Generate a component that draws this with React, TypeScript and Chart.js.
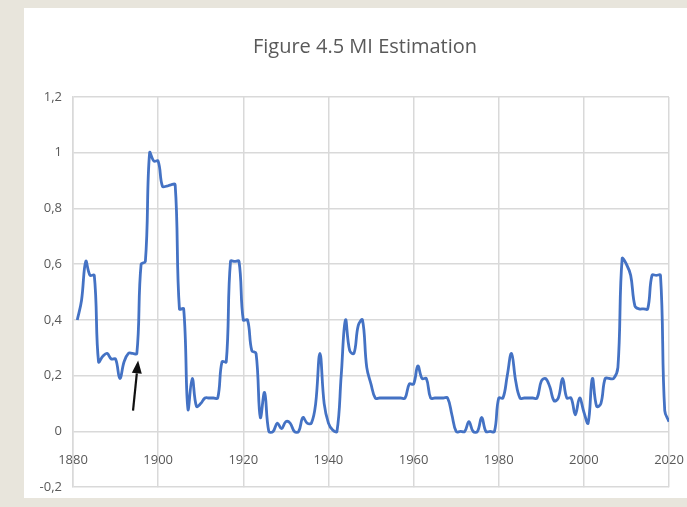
import React, { useEffect, useRef } from "react";
import { Chart, registerables } from "chart.js";

Chart.register(...registerables);

const TITLE = "Figure 4.5 MI Estimation";

const years = [
  1881, 1882, 1883, 1884, 1885, 1886, 1887, 1888, 1889, 1890,
  1891, 1892, 1893, 1894, 1895, 1896, 1897, 1898, 1899, 1900,
  1901, 1902, 1903, 1904, 1905, 1906, 1907, 1908, 1909, 1910,
  1911, 1912, 1913, 1914, 1915, 1916, 1917, 1918, 1919, 1920,
  1921, 1922, 1923, 1924, 1925, 1926, 1927, 1928, 1929, 1930,
  1931, 1932, 1933, 1934, 1935, 1936, 1937, 1938, 1939, 1940,
  1941, 1942, 1943, 1944, 1945, 1946, 1947, 1948, 1949, 1950,
  1951, 1952, 1953, 1954, 1955, 1956, 1957, 1958, 1959, 1960,
  1961, 1962, 1963, 1964, 1965, 1966, 1967, 1968, 1969, 1970,
  1971, 1972, 1973, 1974, 1975, 1976, 1977, 1978, 1979, 1980,
  1981, 1982, 1983, 1984, 1985, 1986, 1987, 1988, 1989, 1990,
  1991, 1992, 1993, 1994, 1995, 1996, 1997, 1998, 1999, 2000,
  2001, 2002, 2003, 2004, 2005, 2006, 2007, 2008, 2009, 2010,
  2011, 2012, 2013, 2014, 2015, 2016, 2017, 2018, 2019, 2020,
];

const miValues = [
  0.40, 0.47, 0.61, 0.56, 0.56, 0.25, 0.27, 0.28, 0.26, 0.26,
  0.19, 0.25, 0.28, 0.28, 0.28, 0.60, 0.61, 1.00, 0.97, 0.97,
  0.88, 0.88, 0.885, 0.885, 0.44, 0.44, 0.08, 0.19, 0.09, 0.10,
  0.12, 0.12, 0.12, 0.12, 0.25, 0.25, 0.61, 0.61, 0.61, 0.40,
  0.40, 0.29, 0.28, 0.05, 0.14, 0.00, 0.00, 0.03, 0.01, 0.035,
  0.03, 0.00, 0.00, 0.05, 0.03, 0.03, 0.10, 0.28, 0.10, 0.03,
  0.005, 0.00, 0.20, 0.40, 0.29, 0.28, 0.38, 0.40, 0.23, 0.17,
  0.12, 0.12, 0.12, 0.12, 0.12, 0.12, 0.12, 0.12, 0.17, 0.17,
  0.235, 0.19, 0.19, 0.12, 0.12, 0.12, 0.12, 0.12, 0.06, 0.00,
  0.00, 0.00, 0.035, 0.00, 0.00, 0.05, 0.00, 0.00, 0.00, 0.12,
  0.12, 0.20, 0.28, 0.18, 0.12, 0.12, 0.12, 0.12, 0.12, 0.18,
  0.19, 0.16, 0.11, 0.12, 0.19, 0.12, 0.12, 0.06, 0.12, 0.07,
  0.03, 0.19, 0.09, 0.10, 0.19, 0.19, 0.19, 0.23, 0.62, 0.60,
  0.56, 0.45, 0.44, 0.44, 0.44, 0.56, 0.56, 0.56, 0.075, 0.035,
];

const xTickYears = [1880, 1900, 1920, 1940, 1960, 1980, 2000, 2020];
const yTickValues = [-0.2, 0, 0.2, 0.4, 0.6, 0.8, 1, 1.2];

// arrow annotation in data coordinates: tail -> tip
const arrowTail = { x: 1894.1, y: 0.075 };
const arrowTip = { x: 1895.3, y: 0.255 };

const arrowPlugin = {
  id: "arrowAnnot",
  afterDatasetsDraw(chart: any) {
    const { ctx, scales } = chart;
    const x1 = scales.x.getPixelForValue(arrowTail.x);
    const y1 = scales.y.getPixelForValue(arrowTail.y);
    const x2 = scales.x.getPixelForValue(arrowTip.x);
    const y2 = scales.y.getPixelForValue(arrowTip.y);
    const ang = Math.atan2(y2 - y1, x2 - x1);
    const headLen = 13;
    const headW = 5;
    ctx.save();
    ctx.strokeStyle = "#111";
    ctx.fillStyle = "#111";
    ctx.lineWidth = 2.2;
    const bx = x2 - headLen * Math.cos(ang);
    const by = y2 - headLen * Math.sin(ang);
    ctx.beginPath();
    ctx.moveTo(x1, y1);
    ctx.lineTo(bx, by);
    ctx.stroke();
    ctx.beginPath();
    ctx.moveTo(x2, y2);
    ctx.lineTo(bx + headW * Math.sin(ang), by - headW * Math.cos(ang));
    ctx.lineTo(bx - headW * Math.sin(ang), by + headW * Math.cos(ang));
    ctx.closePath();
    ctx.fill();
    ctx.restore();
  },
};

export default function App() {
  const canvasRef = useRef<HTMLCanvasElement | null>(null);

  useEffect(() => {
    document.body.style.margin = "0";
    const canvas = canvasRef.current;
    if (!canvas) return;
    const chart = new Chart(canvas, {
      type: "line",
      data: {
        datasets: [
          {
            label: "MI",
            data: years.map((yr, i) => ({ x: yr, y: miValues[i] })),
            borderColor: "#4472C4",
            borderWidth: 2.8,
            pointRadius: 0,
            tension: 0.4,
            fill: false,
            yAxisID: "y",
          },
        ],
      },
      options: {
        animation: false,
        responsive: false,
        maintainAspectRatio: false,
        layout: { padding: { left: 0, right: 0, top: 0, bottom: 0 } },
        plugins: {
          legend: { display: false },
          tooltip: { enabled: false },
          title: {
            display: true,
            text: TITLE,
            color: "#595959",
            font: { family: "'Open Sans', sans-serif", size: 20, weight: "normal", lineHeight: 1.2 },
            padding: { top: 27, bottom: 38 },
          },
        },
        scales: {
          x: {
            type: "linear",
            min: 1880,
            max: 2020,
            position: { y: 0 } as any,
            afterFit: (s: any) => {
              s.height = 0;
            },
            afterBuildTicks: (s: any) => {
              s.ticks = xTickYears.map((v) => ({ value: v }));
            },
            grid: { color: "#d9d9d9", lineWidth: 1.5, drawTicks: false },
            border: { display: false },
            ticks: {
              padding: 21,
              color: "#595959",
              font: { family: "'Open Sans', sans-serif", size: 13 },
              callback: (v: any) => String(v),
              maxRotation: 0,
            },
          },
          y: {
            type: "linear",
            position: "left",
            min: -0.2,
            max: 1.2,
            afterFit: (s: any) => {
              s.width = 49;
            },
            afterBuildTicks: (s: any) => {
              s.ticks = yTickValues.map((v) => ({ value: v }));
            },
            grid: { color: "#d9d9d9", lineWidth: 1.5, drawTicks: false },
            border: { display: true, color: "#d9d9d9", width: 1.5 },
            ticks: {
              padding: 11,
              color: "#595959",
              font: { family: "'Open Sans', sans-serif", size: 13 },
              callback: (v: any) => {
                const n = Number(Number(v).toFixed(1));
                return String(n).replace(".", ",");
              },
            },
          },
          spacer: {
            type: "linear",
            position: "right",
            display: true,
            min: 0,
            max: 1,
            afterFit: (s: any) => {
              s.width = 37;
            },
            grid: { display: false, drawOnChartArea: false },
            border: { display: false },
            ticks: { display: false },
          },
        },
      },
      plugins: [arrowPlugin],
    });
    return () => chart.destroy();
  }, []);

  return (
    <div
      style={{
        position: "relative",
        width: 687,
        height: 507,
        background: "#E8E5DC",
        overflow: "hidden",
      }}
    >
      <div
        style={{
          position: "absolute",
          left: 24,
          top: 8,
          width: 682,
          height: 490,
          background: "#ffffff",
        }}
      />
      <canvas
        ref={canvasRef}
        width={682}
        height={498}
        style={{ display: "block", position: "absolute", left: 24, top: 8 }}
      />
    </div>
  );
}
